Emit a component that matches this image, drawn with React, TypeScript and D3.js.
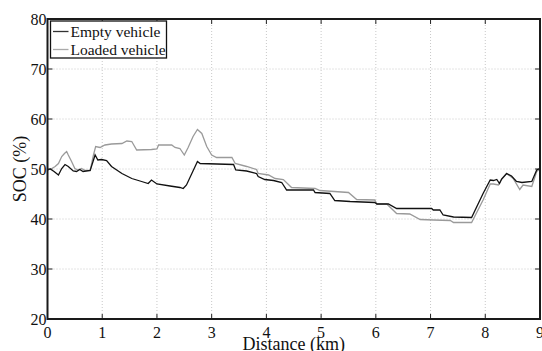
import React from "react";
import * as d3 from "d3";

const emptyDist = [0, 0.05, 0.12, 0.2, 0.26, 0.32, 0.38, 0.47, 0.53, 0.59, 0.65, 0.78, 0.87, 0.92, 0.99, 1.08, 1.17, 1.36, 1.54, 1.72, 1.84, 1.9, 2.0, 2.24, 2.42, 2.48, 2.54, 2.74, 2.79, 3.4, 3.44, 3.64, 3.82, 3.85, 3.97, 4.13, 4.28, 4.37, 4.86, 4.89, 5.16, 5.25, 5.53, 5.98, 6.02, 6.23, 6.38, 7.02, 7.05, 7.17, 7.23, 7.42, 7.75, 7.96, 8.09, 8.15, 8.21, 8.26, 8.3, 8.39, 8.48, 8.57, 8.67, 8.85, 8.94, 9.0];
const emptySoc = [49.8, 50.0, 49.5, 48.8, 50.1, 50.9, 50.5, 49.6, 49.5, 49.9, 49.5, 49.7, 52.8, 51.8, 51.9, 51.7, 50.5, 49.1, 48.1, 47.5, 47.1, 47.8, 47.0, 46.6, 46.3, 46.1, 46.8, 51.5, 51.1, 50.9, 49.8, 49.6, 49.1, 48.5, 47.9, 47.7, 47.3, 45.8, 45.8, 45.3, 45.1, 43.7, 43.5, 43.3, 43.0, 43.0, 42.1, 42.1, 41.8, 41.8, 40.8, 40.4, 40.3, 45.1, 47.8, 47.7, 47.9, 47.1, 48.0, 49.1, 48.6, 47.5, 47.3, 47.5, 49.8, 50.1];

const loadedDist = [0, 0.08, 0.14, 0.2, 0.26, 0.31, 0.35, 0.38, 0.44, 0.5, 0.56, 0.62, 0.69, 0.78, 0.84, 0.88, 0.96, 1.05, 1.17, 1.36, 1.45, 1.54, 1.63, 1.9, 2.0, 2.03, 2.27, 2.33, 2.42, 2.5, 2.57, 2.66, 2.74, 2.82, 2.91, 3.0, 3.09, 3.37, 3.43, 3.64, 3.82, 3.85, 4.04, 4.16, 4.31, 4.46, 4.89, 4.98, 5.5, 5.65, 5.98, 6.02, 6.2, 6.38, 6.62, 6.81, 7.05, 7.36, 7.42, 7.75, 7.96, 8.09, 8.15, 8.24, 8.3, 8.39, 8.51, 8.63, 8.69, 8.85, 8.94, 9.0];
const loadedSoc = [49.8, 50.1, 50.5, 51.1, 52.5, 53.1, 53.5, 52.8, 51.5, 50.1, 49.8, 50.1, 49.7, 49.7, 52.8, 54.5, 54.3, 54.8, 55.0, 55.1, 55.6, 55.5, 53.8, 53.9, 54.0, 54.8, 54.8, 54.3, 54.1, 52.8, 54.3, 56.5, 57.9, 57.1, 54.5, 52.8, 52.3, 52.3, 51.1, 50.5, 49.9, 49.1, 48.8, 48.1, 47.9, 46.3, 46.1, 45.7, 45.3, 43.9, 43.8, 43.0, 43.0, 41.1, 41.0, 39.9, 39.8, 39.7, 39.3, 39.3, 43.8, 47.0, 47.0, 46.8, 48.0, 49.1, 48.1, 45.9, 46.8, 46.5, 49.5, 50.0];

const xTicks = [0, 1, 2, 3, 4, 5, 6, 7, 8, 9];
const yTicks = [20, 30, 40, 50, 60, 70, 80];
const legendLabels = ["Empty vehicle", "Loaded vehicle"];
const xLabel = "Distance (km)";
const yLabel = "SOC (%)";

const W = 542;
const H = 351;
const L = 47.5, R = 540, T = 19, B = 319;
const FF = "Liberation Serif";

export default function App() {
  const x = d3.scaleLinear().domain([0, 9]).range([L, R]);
  const y = d3.scaleLinear().domain([20, 80]).range([B, T]);
  const line = d3
    .line<[number, number]>()
    .x((d) => x(d[0]))
    .y((d) => y(d[1]));
  const emptyPts: [number, number][] = emptyDist.map((d, i) => [d, emptySoc[i]]);
  const loadedPts: [number, number][] = loadedDist.map((d, i) => [d, loadedSoc[i]]);
  const gridColor = "#c8c8c8";

  return (
    <svg width={W} height={H} style={{ position: "absolute", left: 0, top: 0, background: "#fff" }}>
      <style>{`text { font-family: "Liberation Serif", "Times New Roman", Tinos; }`}</style>
      <rect x={0} y={0} width={W} height={H} fill="#fff" />
      {xTicks.slice(1, -1).map((t) => (
        <line key={"gx" + t} x1={x(t)} x2={x(t)} y1={T} y2={B} stroke={gridColor} strokeWidth={1} strokeDasharray="1,2" />
      ))}
      {yTicks.slice(1, -1).map((t) => (
        <line key={"gy" + t} x1={L} x2={R} y1={y(t)} y2={y(t)} stroke={gridColor} strokeWidth={1} strokeDasharray="1,2" />
      ))}
      {xTicks.map((t) => (
        <g key={"tx" + t}>
          <line x1={x(t)} x2={x(t)} y1={B} y2={B - 5} stroke="#222" strokeWidth={1} />
          <line x1={x(t)} x2={x(t)} y1={T} y2={T + 5} stroke="#222" strokeWidth={1} />
          <text x={x(t)} y={338} textAnchor="middle" fontSize={16} fill="#111" fontFamily={FF}>{String(t)}</text>
        </g>
      ))}
      {yTicks.map((t) => (
        <g key={"ty" + t}>
          <line x1={L} x2={L + 5} y1={y(t)} y2={y(t)} stroke="#222" strokeWidth={1} />
          <line x1={R} x2={R - 5} y1={y(t)} y2={y(t)} stroke="#222" strokeWidth={1} />
          <text x={L - 1} y={y(t) + 5.5} textAnchor="end" fontSize={16} fill="#111" fontFamily={FF}>{String(t)}</text>
        </g>
      ))}
      <path d={line(loadedPts) || ""} fill="none" stroke="#9a9a9a" strokeWidth={1.3} />
      <path d={line(emptyPts) || ""} fill="none" stroke="#111" strokeWidth={1.3} />
      <rect x={L} y={T} width={R - L} height={B - T} fill="none" stroke="#1a1a1a" strokeWidth={2} />
      <rect x={50.5} y={21} width={116} height={37} fill="#fff" stroke="#111" strokeWidth={1.3} />
      <line x1={53} x2={68.5} y1={31.5} y2={31.5} stroke="#333" strokeWidth={1.3} />
      <line x1={53} x2={68.5} y1={49.5} y2={49.5} stroke="#aaa" strokeWidth={1.3} />
      <text x={70.5} y={36.5} fontSize={15.5} fill="#111" fontFamily={FF}>{legendLabels[0]}</text>
      <text x={70.5} y={54.5} fontSize={15.5} fill="#111" fontFamily={FF}>{legendLabels[1]}</text>
      <text x={(L + R) / 2} y={349.5} textAnchor="middle" fontSize={18} fill="#111" fontFamily={FF}>{xLabel}</text>
      <text transform={`translate(26,${(T + B) / 2}) rotate(-90)`} textAnchor="middle" fontSize={18} fill="#111" fontFamily={FF}>{yLabel}</text>
    </svg>
  );
}
